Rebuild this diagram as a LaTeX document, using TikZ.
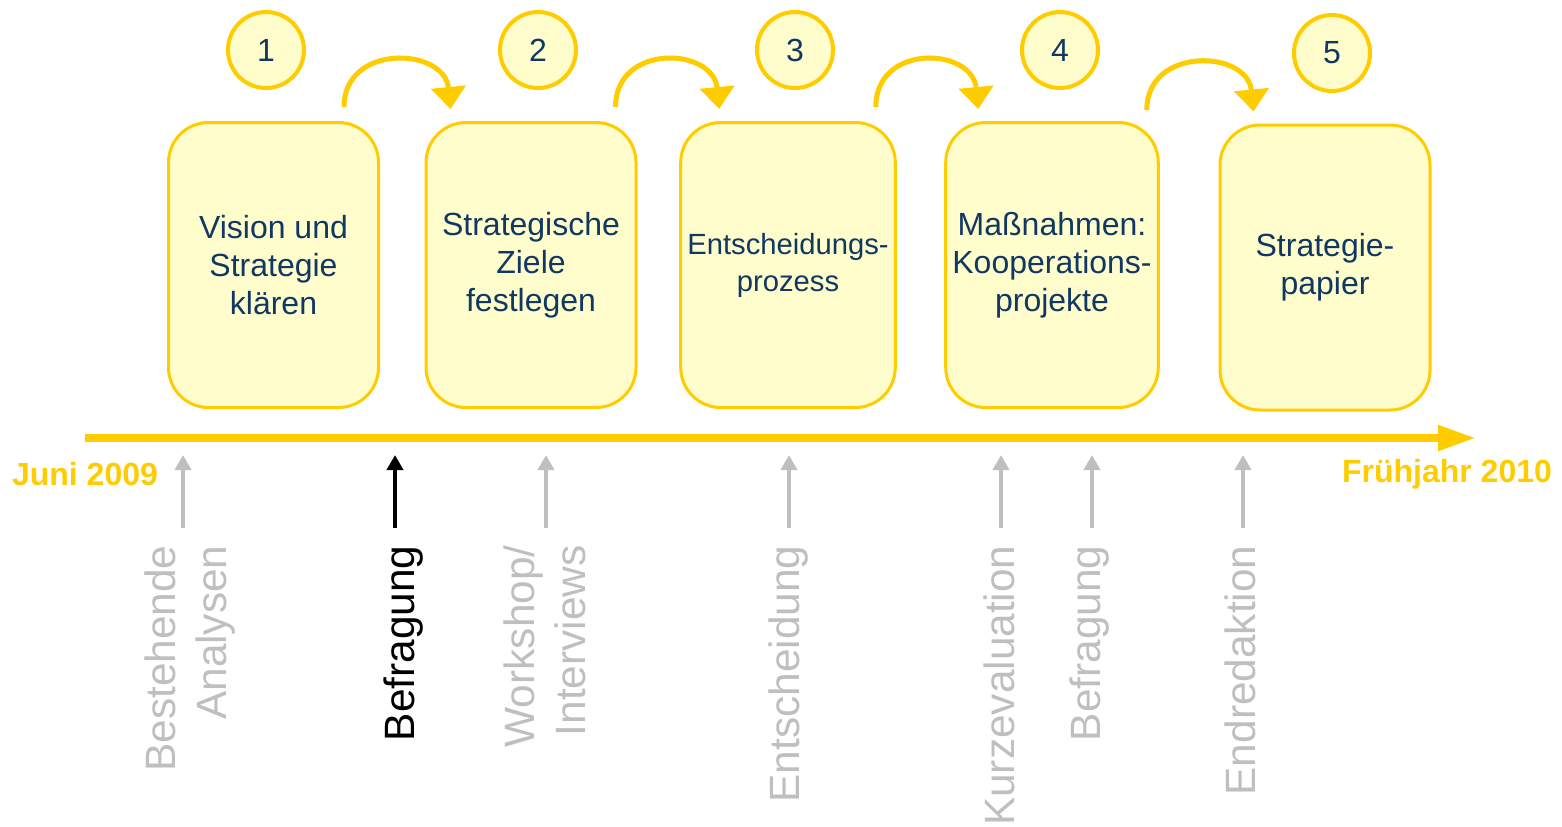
\documentclass[tikz,border=0pt]{standalone}
\usepackage{fontspec}
\setmainfont{Liberation Sans}
\usetikzlibrary{arrows.meta}

\definecolor{gold}{HTML}{FFCC00}
\definecolor{pale}{HTML}{FFFDCB}
\definecolor{navy}{HTML}{103864}
\definecolor{ltgray}{HTML}{BFBFBF}

\tikzset{
  phase/.style={draw=gold, fill=pale, line width=1.5pt, rounded corners=20pt,
    minimum width=105pt, minimum height=142.5pt, text=navy, align=center,
    font=\fontsize{16}{19}\selectfont},
  stepno/.style={circle, draw=gold, fill=pale, line width=2pt, minimum size=38pt,
    text=navy, font=\fontsize{16}{19}\selectfont},
  next/.style={draw=gold, line width=2.5pt, -{Triangle[length=11pt,width=17pt]}},
  timeline/.style={draw=gold, line width=4pt, -{Triangle[length=19pt,width=12pt]}},
  datum/.style={text=gold, font=\bfseries\fontsize{16}{19}\selectfont},
  event/.style={rotate=90, anchor=east, align=right, inner sep=0pt, text=ltgray,
    font=\fontsize{21.2}{25.5}\selectfont},
  eventarrow/.style={draw=ltgray, line width=2pt, -{Triangle[length=7.5pt,width=8pt]}}
}

\begin{document}
\begin{tikzpicture}[x=0.5pt,y=-0.5pt]
  \useasboundingbox (0,0) rectangle (1562,826);

  % phases
  \node[phase] (b1) at (273.5,265) {Vision und\\Strategie\\kl\"aren};
  \node[phase] (b2) at (531,265) {Strategische\\Ziele\\festlegen};
  \node[phase, font=\fontsize{14.6}{18.5}\selectfont] (b3) at (788,265) {Entscheidungs-\\prozess};
  \node[phase] (b4) at (1052,265) {Ma\ss nahmen:\\Kooperations-\\projekte};
  \node[phase] (b5) at (1325,267.5) {Strategie-\\papier};

  % step numbers
  \node[stepno] (c1) at (266,50) {1};
  \node[stepno] (c2) at (538,50) {2};
  \node[stepno] (c3) at (795,50) {3};
  \node[stepno] (c4) at (1060,50) {4};
  \node[stepno] (c5) at (1332,53) {5};

  % arcs from one phase to the next
  \draw[next] ([shift={(-36,-14)}]b1.north east) .. controls +(0,-64) and +(-6,-62) .. ([shift={(26,-12)}]b2.north west);
  \draw[next] ([shift={(-22,-14)}]b2.north east) .. controls +(0,-64) and +(-6,-62) .. ([shift={(40,-12)}]b3.north west);
  \draw[next] ([shift={(-21,-14)}]b3.north east) .. controls +(0,-64) and +(-6,-62) .. ([shift={(34,-12)}]b4.north west);
  \draw[next] ([shift={(-13,-11)}]b4.north east) .. controls +(0,-64) and +(-6,-62) .. ([shift={(35,-12)}]b5.north west);

  % time axis
  \coordinate (t0) at (85,438);
  \coordinate (t1) at (1476,438);
  \draw[timeline] (t0) -- (t1);
  \node[datum] (start) at (85,474) {Juni 2009};
  \node[datum] (end) at (1447,474) {Fr\"uhjahr 2010};

  % events below the axis
  \node[event] (e1) at (190.5,545) {Bestehende\\Analysen};
  \node[event, text=black] (e2) at (404,545) {Befragung};
  \node[event] (e3) at (545,545) {Workshop/\\Interviews};
  \node[event] (e4) at (789,545) {Entscheidung};
  \node[event] (e5) at (999,545) {Kurzevaluation};
  \node[event] (e6) at (1090,545) {Befragung};
  \node[event] (e7) at (1240,545) {Endredaktion};

  \foreach \e/\dx in {e1/-7.5,e3/1,e4/0,e5/2,e6/2,e7/3}
    \draw[eventarrow] ([shift={(\dx,-17)}]\e.east) -- ++(0,-73);
  \draw[eventarrow, draw=black] ([shift={(-9,-17)}]e2.east) -- ++(0,-73);
\end{tikzpicture}
\end{document}
